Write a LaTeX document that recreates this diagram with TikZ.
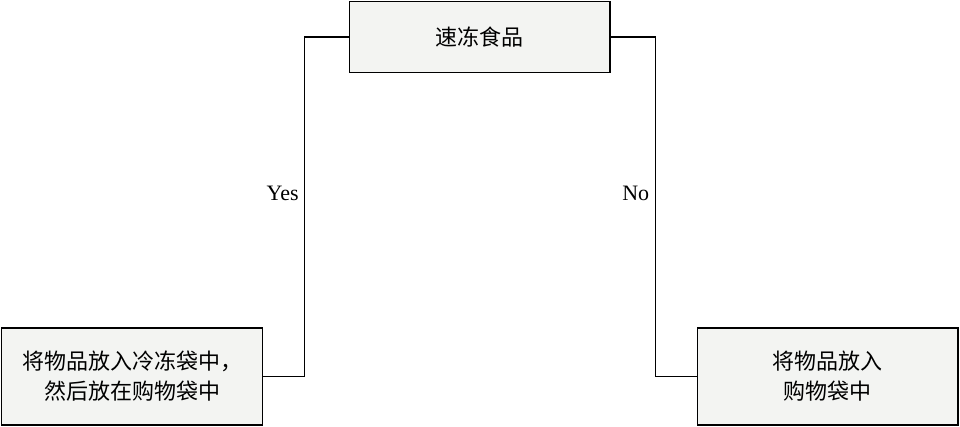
\documentclass[tikz,border=0pt]{standalone}
\usepackage{fontspec}
\setmainfont{Liberation Serif}
\newfontfamily\cjk{Noto Sans CJK SC}
\definecolor{boxgray}{RGB}{243,244,242}

\begin{document}
\begin{tikzpicture}[x=0.75pt, y=-0.75pt, line width=1.1pt,
  choice/.style={draw, fill=boxgray, minimum width=195.4pt, inner sep=0pt, align=center, font=\cjk\fontsize{16.5}{22.5}\selectfont},
  answer/.style={left, inner sep=4pt, font=\fontsize{16.5}{19}\selectfont}]
\useasboundingbox (0,0) rectangle (960,427);
\node[choice, minimum height=53.25pt] (frozen) at (479.75,37) {速冻食品};
\node[choice, minimum height=72.75pt] (coldbag) at (132,376.5) {将物品放入冷冻袋中，\\然后放在购物袋中};
\node[choice, minimum height=72.75pt] (shopbag) at (827.75,376.5) {将物品放入\\购物袋中};
\draw (frozen.west) -- ++(-44,0) |- node[answer, pos=0.23] {Yes} (coldbag.east);
\draw (frozen.east) -- ++(44.5,0) |- node[answer, pos=0.23] {No} (shopbag.west);
\end{tikzpicture}
\end{document}
